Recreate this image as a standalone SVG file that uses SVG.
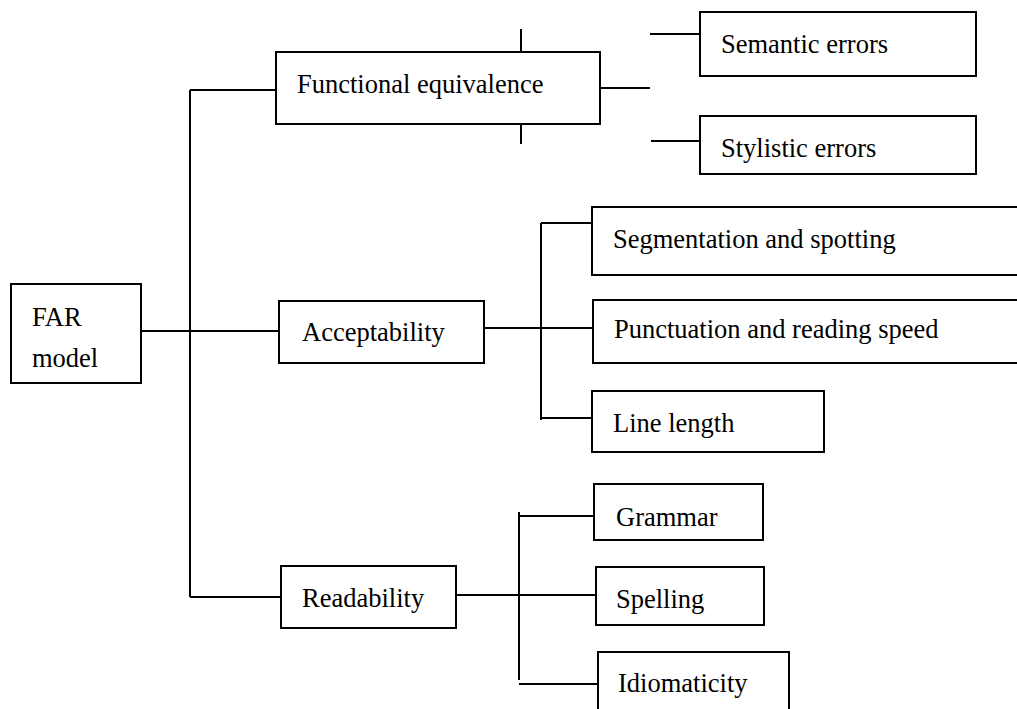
<svg xmlns="http://www.w3.org/2000/svg" width="1017" height="709" viewBox="0 0 1017 709">
<style>
.box{fill:#fff;stroke:#000;stroke-width:2}
.ln{stroke:#000;stroke-width:2;fill:none}
.t{font-size:26.5px;fill:#000}
</style>
<rect width="1017" height="709" fill="#fff"/>
<g id="connectors">
<line class="ln" x1="141" y1="331" x2="190" y2="331"/>
<line class="ln" x1="190" y1="90" x2="190" y2="597"/>
<line class="ln" x1="190" y1="90" x2="276" y2="90"/>
<line class="ln" x1="190" y1="331" x2="279" y2="331"/>
<line class="ln" x1="190" y1="597" x2="281" y2="597"/>
<line class="ln" x1="600" y1="88" x2="650" y2="88"/>
<line class="ln" x1="521" y1="29" x2="521" y2="52"/>
<line class="ln" x1="521" y1="124" x2="521" y2="144"/>
<line class="ln" x1="650" y1="34" x2="700" y2="34"/>
<line class="ln" x1="651" y1="141" x2="700" y2="141"/>
<line class="ln" x1="484" y1="328" x2="593" y2="328"/>
<line class="ln" x1="541" y1="223" x2="541" y2="420"/>
<line class="ln" x1="541" y1="223" x2="592" y2="223"/>
<line class="ln" x1="541" y1="418" x2="592" y2="418"/>
<line class="ln" x1="456" y1="595" x2="596" y2="595"/>
<line class="ln" x1="519" y1="512" x2="519" y2="680"/>
<line class="ln" x1="519" y1="516" x2="594" y2="516"/>
<line class="ln" x1="519" y1="684" x2="598" y2="684"/>
</g>
<g font-family="'Liberation Serif', 'Times New Roman', 'DejaVu Serif', serif">
<g id="far"><rect class="box" x="11" y="284" width="130" height="99"/><text class="t" x="32" y="326">FAR</text><text class="t" x="32" y="367">model</text></g>
<g id="functional"><rect class="box" x="276" y="52" width="324" height="72"/><text class="t" x="297" y="93">Functional equivalence</text></g>
<g id="semantic"><rect class="box" x="700" y="12" width="276" height="64"/><text class="t" x="721" y="53">Semantic errors</text></g>
<g id="stylistic"><rect class="box" x="700" y="116" width="276" height="58"/><text class="t" x="721" y="157">Stylistic errors</text></g>
<g id="acceptability"><rect class="box" x="279" y="301" width="205" height="62"/><text class="t" x="302" y="341">Acceptability</text></g>
<g id="segmentation"><rect class="box" x="592" y="207" width="440" height="68"/><text class="t" x="613" y="248">Segmentation and spotting</text></g>
<g id="punctuation"><rect class="box" x="593" y="300" width="440" height="63"/><text class="t" x="614" y="338">Punctuation and reading speed</text></g>
<g id="linelength"><rect class="box" x="592" y="391" width="232" height="61"/><text class="t" x="613" y="432">Line length</text></g>
<g id="readability"><rect class="box" x="281" y="566" width="175" height="62"/><text class="t" x="302" y="607">Readability</text></g>
<g id="grammar"><rect class="box" x="594" y="484" width="169" height="56"/><text class="t" x="616" y="526">Grammar</text></g>
<g id="spelling"><rect class="box" x="596" y="567" width="168" height="58"/><text class="t" x="616" y="608">Spelling</text></g>
<g id="idiomaticity"><rect class="box" x="598" y="652" width="191" height="70"/><text class="t" x="618" y="692">Idiomaticity</text></g>
</g>
</svg>
